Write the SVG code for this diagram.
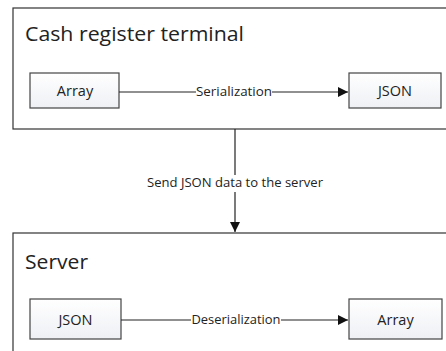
<svg xmlns="http://www.w3.org/2000/svg" width="446" height="351" viewBox="0 0 446 351">
<style>
.outer{fill:#fff;stroke:#333;stroke-width:1.2}
.box{fill:url(#g);stroke:#444;stroke-width:1.2}
.title{font-family:"Open Sans","Liberation Sans",sans-serif;font-size:20px;fill:#222}
.lbl{font-family:"Open Sans","Liberation Sans",sans-serif;font-size:14.5px;fill:#222;text-anchor:middle}
.edge{font-family:"Open Sans","Liberation Sans",sans-serif;font-size:12px;fill:#222;text-anchor:middle}
.ln{stroke:#222;stroke-width:1.2;fill:none}
</style>
<defs>
<linearGradient id="g" x1="0" y1="0" x2="0" y2="1">
<stop offset="0" stop-color="#ffffff"/>
<stop offset="1" stop-color="#eef0f4"/>
</linearGradient>
<marker id="ah" viewBox="0 0 10 10" refX="10" refY="5" markerWidth="10" markerHeight="10" markerUnits="userSpaceOnUse" orient="auto">
<path d="M0,0 L10,5 L0,10 Z" fill="#111"/>
</marker>
</defs>
<rect width="446" height="351" fill="#fff"/>
<g id="terminal">
<rect class="outer" x="13" y="8" width="440" height="121"/>
<text class="title" x="25" y="41" textLength="219" lengthAdjust="spacingAndGlyphs">Cash register terminal</text>
</g>
<g id="server">
<rect class="outer" x="13" y="233" width="440" height="130"/>
<text class="title" x="25" y="269" textLength="63" lengthAdjust="spacingAndGlyphs">Server</text>
</g>
<g id="array1">
<rect class="box" x="30" y="73" width="89" height="35"/>
<text class="lbl" x="75" y="96">Array</text>
</g>
<g id="json1">
<rect class="box" x="349" y="73" width="92" height="35"/>
<text class="lbl" x="395" y="96">JSON</text>
</g>
<g id="json2">
<rect class="box" x="30" y="299" width="91" height="40"/>
<text class="lbl" x="75.5" y="325">JSON</text>
</g>
<g id="array2">
<rect class="box" x="349" y="299" width="93" height="40"/>
<text class="lbl" x="395.5" y="325">Array</text>
</g>
<g id="connectors">
<line class="ln" x1="119" y1="92" x2="196" y2="92"/>
<line class="ln" x1="272" y1="92" x2="348" y2="92" marker-end="url(#ah)"/>
<text class="edge" x="234" y="96" textLength="76" lengthAdjust="spacingAndGlyphs">Serialization</text>
<line class="ln" x1="121" y1="320" x2="191" y2="320"/>
<line class="ln" x1="281" y1="320" x2="348" y2="320" marker-end="url(#ah)"/>
<text class="edge" x="236" y="324" textLength="89" lengthAdjust="spacingAndGlyphs">Deserialization</text>
<line class="ln" x1="235" y1="129" x2="235" y2="175"/>
<line class="ln" x1="235" y1="192" x2="235" y2="232" marker-end="url(#ah)"/>
<text class="edge" x="235" y="187" textLength="176" lengthAdjust="spacingAndGlyphs">Send JSON data to the server</text>
</g>
</svg>
